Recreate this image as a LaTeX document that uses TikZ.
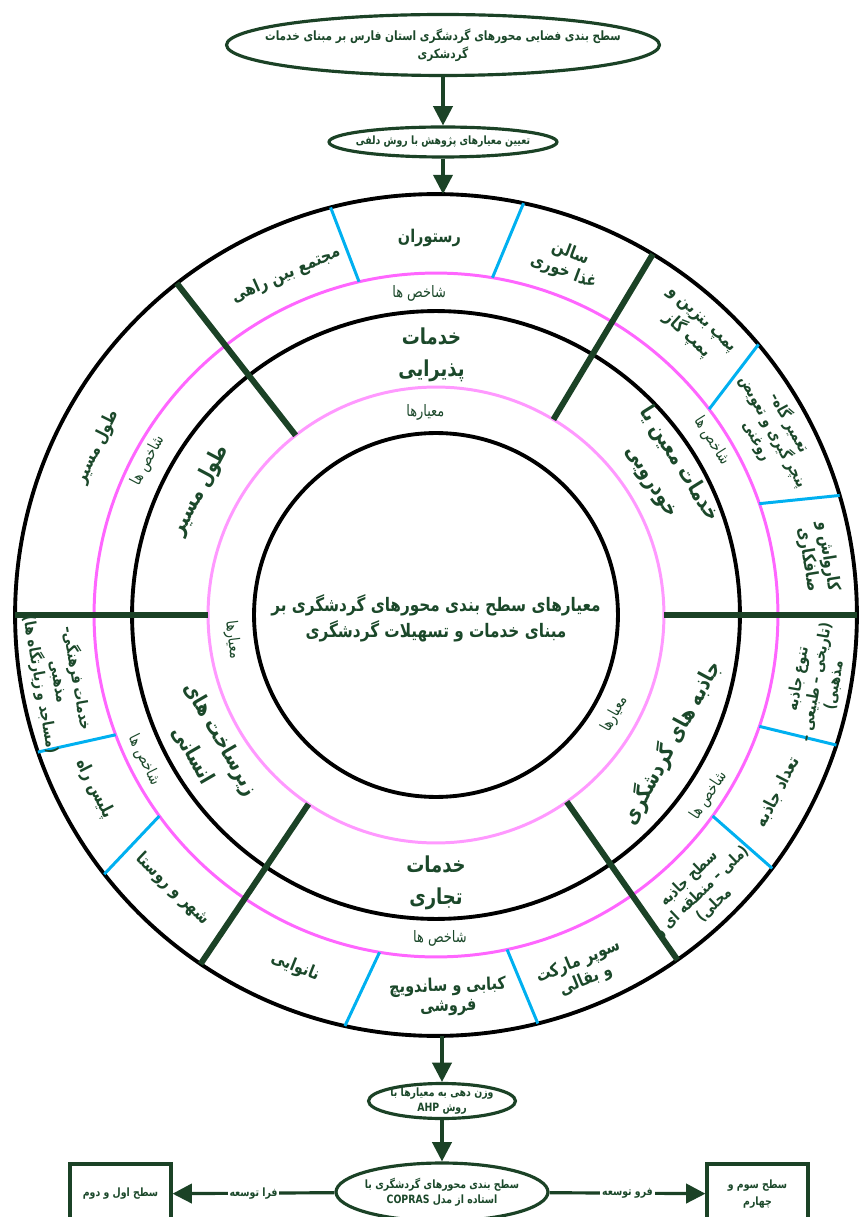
\documentclass[tikz,border=0pt]{standalone}
\usepackage{fontspec}
\usepackage{tikz}
\usetikzlibrary{shapes,arrows,arrows.meta,positioning,calc,shapes.geometric}
\TeXXeTstate=1
\newfontfamily\arabicfont[Script=Arabic, FakeStretch=0.82]{DejaVu Sans}
\newcommand{\fa}[1]{\beginR #1\endR}
\definecolor{txtgreen}{RGB}{27,72,42}
\definecolor{divgreen}{RGB}{27,66,38}
\definecolor{subblue}{RGB}{0,176,240}
\definecolor{indpink}{RGB}{255,102,255}
\definecolor{critpink}{RGB}{255,153,255}

\begin{document}
\begin{tikzpicture}[
    x=0.02cm, y=0.02cm,
    ring/.style={circle, draw=black, line width=2.2pt, inner sep=0pt, outer sep=0pt},
    sector/.style={draw=divgreen, line width=3.4pt},
    subdiv/.style={draw=subblue, line width=1.7pt},
    flow/.style={ellipse, draw=divgreen, line width=1.8pt, inner sep=0pt, fill=white},
    flowtxt/.style={font=\arabicfont\bfseries\fontsize{6.5}{8.5}\selectfont, text=txtgreen, align=center, inner sep=1pt},
    levelbox/.style={rectangle, draw=divgreen, line width=1.8pt, minimum width=2.02cm, minimum height=1.2cm, font=\arabicfont\bfseries\fontsize{6.5}{10}\selectfont, text=txtgreen, align=center},
    arrow/.style={->, >={Triangle[length=11pt,width=11pt]}, draw=divgreen, line width=1.8pt},
    crit/.style={font=\arabicfont\bfseries\fontsize{12.5}{18.5}\selectfont, text=txtgreen, align=center},
    indic/.style={font=\arabicfont\bfseries\fontsize{10}{11.5}\selectfont, text=txtgreen, align=center, inner sep=1pt},
    tag/.style={font=\arabicfont\fontsize{9}{10}\selectfont, text=txtgreen, align=center, inner sep=1pt}
]
\useasboundingbox (-436,-602) rectangle (425,615);

% Flow at the top
\node[flow, minimum width=8.66cm, minimum height=1.22cm] (title) at (7,570) {};
\node[flowtxt, font=\arabicfont\bfseries\fontsize{7.3}{10}\selectfont] (titletxt) at (title)
    {\fa{سطح بندی فضایی محورهای گردشگری استان فارس بر مبنای خدمات}\\\fa{گردشکری}};
\node[flow, minimum width=4.56cm, minimum height=0.6cm] (delphi) at (7,473) {};
\node[flowtxt] (delphitxt) at (delphi) {\fa{تعیین معیارهای پژوهش با روش دلفی}};

% Rings
\node[ring, minimum size=16.84cm] (outer) at (0,0) {};
\node[ring, draw=indpink, line width=1.7pt, minimum size=13.68cm] (indring) at (0,0) {};
\node[ring, minimum size=12.16cm] (midring) at (0,0) {};
\node[ring, draw=critpink, line width=1.7pt, minimum size=9.12cm] (critring) at (0,0) {};
\node[ring, minimum size=7.28cm] (core) at (0,0) {};
\node[font=\arabicfont\bfseries\fontsize{10.6}{15}\selectfont, text=txtgreen, align=center] (coretxt) at (0,-3)
    {\fa{معیارهای سطح بندی محورهای گردشگری بر}\\\fa{مبنای خدمات و تسهیلات گردشگری}};

% Sector borders
\draw[sector] (0:228) -- (0:421);
\draw[sector] (59:228) -- (59:421);
\draw[sector] (128:228) -- (128:421);
\draw[sector] (180:228) -- (180:421);
\draw[sector] (236:228) -- (236:421);
\draw[sector] (305:228) -- (305:421);

% Indicator borders
\draw[subdiv] (103:342) -- (104.5:421);
\draw[subdiv] (80.5:342) -- (78:421);
\draw[subdiv] (37:342) -- (40:421);
\draw[subdiv] (19:342) -- (16.5:421);
\draw[subdiv] (-19:342) -- (-18:421);
\draw[subdiv] (-36:342) -- (-37:421);
\draw[subdiv] (260.5:342) -- (257.5:421);
\draw[subdiv] (282:342) -- (284:421);
\draw[subdiv] (200.5:342) -- (199:421);
\draw[subdiv] (216:342) -- (218:421);

% Hospitality
\node[crit] (hosp) at (91:260) {\fa{خدمات}\\\fa{پذیرایی}};
\node[tag] (hospc) at (93:203) {\fa{معیارها}};
\node[tag] (hospi) at (93:322) {\fa{شاخص ها}};
\node[indic] (restaurant) at (91:377) {\fa{رستوران}};
\node[indic, rotate=-20.4] (dining) at (69.6:376) {\fa{سالن}\\\fa{غذا خوری}};
\node[indic, rotate=23.8] (complex) at (113.8:372) {\fa{مجتمع بین راهی}};

% Car services
\node[crit, rotate=-58] (car) at (31.8:270) {\fa{خدمات معین یا}\\\fa{خودرویی}};
\node[tag, rotate=-57.7] (cari) at (32.3:326) {\fa{شاخص ها}};
\node[indic, rotate=-43] (pump) at (48:385) {\fa{پمپ بنزین و}\\\fa{پمپ گاز}};
\node[indic, rotate=-61.5, font=\arabicfont\bfseries\fontsize{9}{10.5}\selectfont] (repair) at (28.5:384) {\fa{تعمیر گاه–}\\\fa{پنچر گیری و تعویض}\\\fa{روغنی}};
\node[indic, rotate=-81] (carwash) at (8.5:386) {\fa{کارواش و}\\\fa{صافکاری}};

% Route length
\node[crit, rotate=62] (route) at (152.1:267) {\fa{طول مسیر}};
\node[tag, rotate=62] (routei) at (151.8:327) {\fa{شاخص ها}};
\node[indic, rotate=63.6] (length) at (153.6:378) {\fa{طول مسیر}};

% Human infrastructure
\node[tag, rotate=-83] (humanc) at (187:205) {\fa{معیارها}};
\node[crit, rotate=-60] (human) at (210:264) {\fa{زیرساخت های}\\\fa{انسانی}};
\node[tag, rotate=-63.6] (humani) at (206.4:326) {\fa{شاخص ها}};
\node[indic, rotate=-80, font=\arabicfont\bfseries\fontsize{9}{10.5}\selectfont] (culture) at (190:383) {\fa{خدمات فرهنگی–}\\\fa{مذهبی}\\\fa{(مساجد و زیارتگاه ها)}};
\node[indic, rotate=-63] (police) at (207:383) {\fa{پلیس راه}};
\node[indic, rotate=-43.8] (village) at (226.2:380) {\fa{شهر و روستا}};

% Commerce
\node[crit] (trade) at (270:268) {\fa{خدمات}\\\fa{تجاری}};
\node[tag] (tradei) at (270.7:323) {\fa{شاخص ها}};
\node[indic, rotate=-21.8] (bakery) at (248.2:379) {\fa{نانوایی}};
\node[indic, rotate=1.8] (kebab) at (271.8:382) {\fa{کبابی و ساندویچ}\\\fa{فروشی}};
\node[indic, rotate=22.3] (market) at (292.3:385) {\fa{سوپر مارکت}\\\fa{و بقالی}};

% Attractions
\node[crit, rotate=61.5] (sight) at (-28.5:268) {\fa{جاذبه های گردشگری}};
\node[tag, rotate=61] (sightc) at (-29:204) {\fa{معیارها}};
\node[tag, rotate=56.5] (sighti) at (-33.5:327) {\fa{شاخص ها}};
\node[indic, rotate=80, font=\arabicfont\bfseries\fontsize{9}{10.5}\selectfont] (variety) at (-10:386) {\fa{تنوع جاذبه}\\\fa{(تاریخی – طبیعی –}\\\fa{مذهبی)}};
\node[indic, rotate=62.6] (count) at (-27.4:385) {\fa{تعداد جاذبه}};
\node[indic, rotate=43.8, font=\arabicfont\bfseries\fontsize{9}{10.5}\selectfont] (level) at (-46.2:383) {\fa{سطح جاذبه}\\\fa{(ملی – منطقه ای و}\\\fa{محلی)}};

% Flow at the bottom
\node[flow, minimum width=2.94cm, minimum height=0.7cm] (ahp) at (6,-486) {};
\node[flowtxt] (ahptxt) at (ahp) {\fa{وزن دهی به معیارها با}\\\fa{روش \beginL AHP\endL{}}};
\node[flow, minimum width=4.24cm, minimum height=1.16cm] (copras) at (6,-577) {};
\node[flowtxt] (coprastxt) at (copras) {\fa{سطح بندی محورهای گردشگری با}\\\fa{استاده از مدل \beginL COPRAS\endL{}}};
\node[levelbox] (upper) at (-315.5,-579) {\fa{سطح اول و دوم}};
\node[levelbox] (lower) at (321.5,-579) {\fa{سطح سوم و}\\\fa{چهارم}};

% Arrows
\draw[arrow] (title) -- (delphi);
\draw[arrow] (delphi) -- (delphi |- outer.north);
\draw[arrow] (ahp |- outer.south) -- (ahp);
\draw[arrow] (ahp) -- (copras);
\draw[arrow] (copras) -- node[flowtxt, fill=white] {\fa{فرا توسعه}} (upper);
\draw[arrow] (copras) -- node[flowtxt, fill=white] {\fa{فرو توسعه}} (lower);

\end{tikzpicture}
\end{document}
